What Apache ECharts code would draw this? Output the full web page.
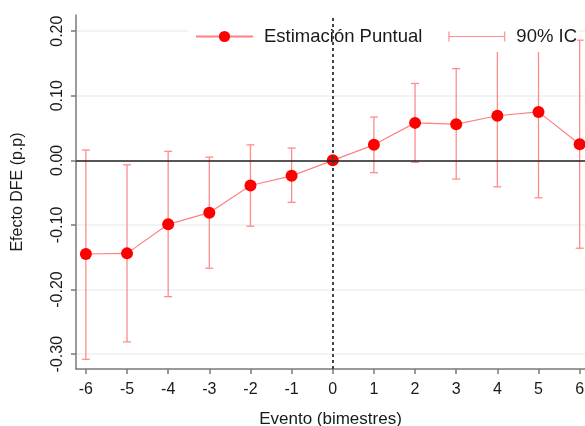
<!DOCTYPE html>
<html>
<head>
<meta charset="utf-8">
<script src="https://cdn.jsdelivr.net/npm/echarts@6/dist/echarts.min.js"></script>
<style>
  html, body { margin: 0; padding: 0; background: #fff; }
  #chart { width: 585px; height: 426px; }
</style>
</head>
<body>
<div id="chart"></div>
<script>
// ---- data ----
const periods = [-6, -5, -4, -3, -2, -1, 0, 1, 2, 3, 4, 5, 6];
const estimates = [-0.145, -0.144, -0.099, -0.081, -0.039, -0.024, 0, 0.024, 0.058, 0.056, 0.069, 0.075, 0.025];
const ciLow  = [-0.308, -0.281, -0.211, -0.167, -0.102, -0.065, 0, -0.019, -0.003, -0.029, -0.041, -0.058, -0.136];
const ciHigh = [0.016, -0.007, 0.014, 0.005, 0.024, 0.019, 0, 0.067, 0.119, 0.142, 0.179, 0.209, 0.186];
const yTicks = [-0.3, -0.2, -0.1, 0, 0.1, 0.2];
const seriesNames = ['Estimación Puntual', '90% IC'];
const xTitle = 'Evento (bimestres)';
const yTitle = 'Efecto DFE (p.p)';

const pointData = periods.map((p, i) => [p, estimates[i]]);
const ciData = periods.map((p, i) => [p, ciLow[i], ciHigh[i]]);

const red = '#FF0000';
const ciColor = '#FF8C8C';
const font = 'Liberation Sans, Arial, sans-serif';
const axisColor = '#7a7a7a';

const chart = echarts.init(document.getElementById('chart'), null, { renderer: 'canvas' });
chart.setOption({
  animation: false,
  backgroundColor: '#fff',
  grid: { left: 76, right: 0, top: 15, bottom: 57, containLabel: false, outerBoundsMode: 'none' },
  legend: {
    left: 188, top: 21, width: 420,
    padding: [6, 0, 6, 7],
    backgroundColor: '#fff',
    itemWidth: 57, itemHeight: 14, itemGap: 26,
    textStyle: { fontSize: 18.5, color: '#1a1a1a', fontFamily: font, padding: [0, 0, 0, 6] },
    data: [
      { name: seriesNames[0] },
      { name: seriesNames[1], icon: 'path://M0,0h1.2v10h-1.2z M0,4.4h58v1.2h-58z M56.8,0h1.2v10h-1.2z' }
    ]
  },
  xAxis: {
    type: 'value', min: -6.24, max: 6.13,
    name: xTitle, nameLocation: 'middle', nameGap: 42,
    nameTextStyle: { fontSize: 17, color: '#1a1a1a', fontFamily: font },
    axisLine: { show: true, onZero: false, lineStyle: { color: axisColor, width: 1.5 } },
    axisTick: { show: true, customValues: periods, length: 5, lineStyle: { color: axisColor, width: 1.5 } },
    axisLabel: { customValues: periods, fontSize: 16, color: '#1a1a1a', fontFamily: font, margin: 13 },
    splitLine: { show: false }
  },
  yAxis: {
    type: 'value', min: -0.323, max: 0.225,
    name: yTitle, nameLocation: 'middle', nameGap: 50, nameRotate: 90,
    nameTextStyle: { fontSize: 16, color: '#1a1a1a', fontFamily: font },
    axisLine: { show: true, onZero: false, lineStyle: { color: axisColor, width: 1.5 } },
    axisTick: { show: true, customValues: yTicks, length: 5, lineStyle: { color: axisColor, width: 1.5 } },
    axisLabel: {
      customValues: yTicks, rotate: 90, fontSize: 16, color: '#1a1a1a', fontFamily: font, margin: 10,
      formatter: v => Number(v).toFixed(2)
    },
    splitLine: { show: true, lineStyle: { color: '#EDF1F1', width: 1.5 } }
  },
  series: [
    {
      name: 'zero-lines', type: 'line', data: [], z: 1, silent: true,
      markLine: {
        symbol: 'none', silent: true, label: { show: false },
        data: [
          { yAxis: 0, lineStyle: { color: '#222', width: 1.5, type: 'solid' } },
          { xAxis: 0, lineStyle: { color: '#444', width: 2, type: [3, 3] } }
        ]
      }
    },
    {
      name: seriesNames[1], type: 'custom', z: 2,
      itemStyle: { color: ciColor },
      data: ciData,
      encode: { x: 0, y: [1, 2] },
      renderItem: function (params, api) {
        const x = api.value(0);
        const pLo = api.coord([x, api.value(1)]);
        const pHi = api.coord([x, api.value(2)]);
        const w = 4;
        const style = { stroke: ciColor, lineWidth: 1.3 };
        return {
          type: 'group',
          children: [
            { type: 'line', shape: { x1: pLo[0], y1: pLo[1], x2: pHi[0], y2: pHi[1] }, style: style },
            { type: 'line', shape: { x1: pLo[0] - w, y1: pLo[1], x2: pLo[0] + w, y2: pLo[1] }, style: style },
            { type: 'line', shape: { x1: pHi[0] - w, y1: pHi[1], x2: pHi[0] + w, y2: pHi[1] }, style: style }
          ]
        };
      }
    },
    {
      name: seriesNames[0], type: 'line', z: 3,
      data: pointData,
      symbol: 'circle', symbolSize: 12,
      itemStyle: { color: red },
      lineStyle: { color: '#FF8080', width: 1.2 }
    }
  ]
});
</script>
</body>
</html>
